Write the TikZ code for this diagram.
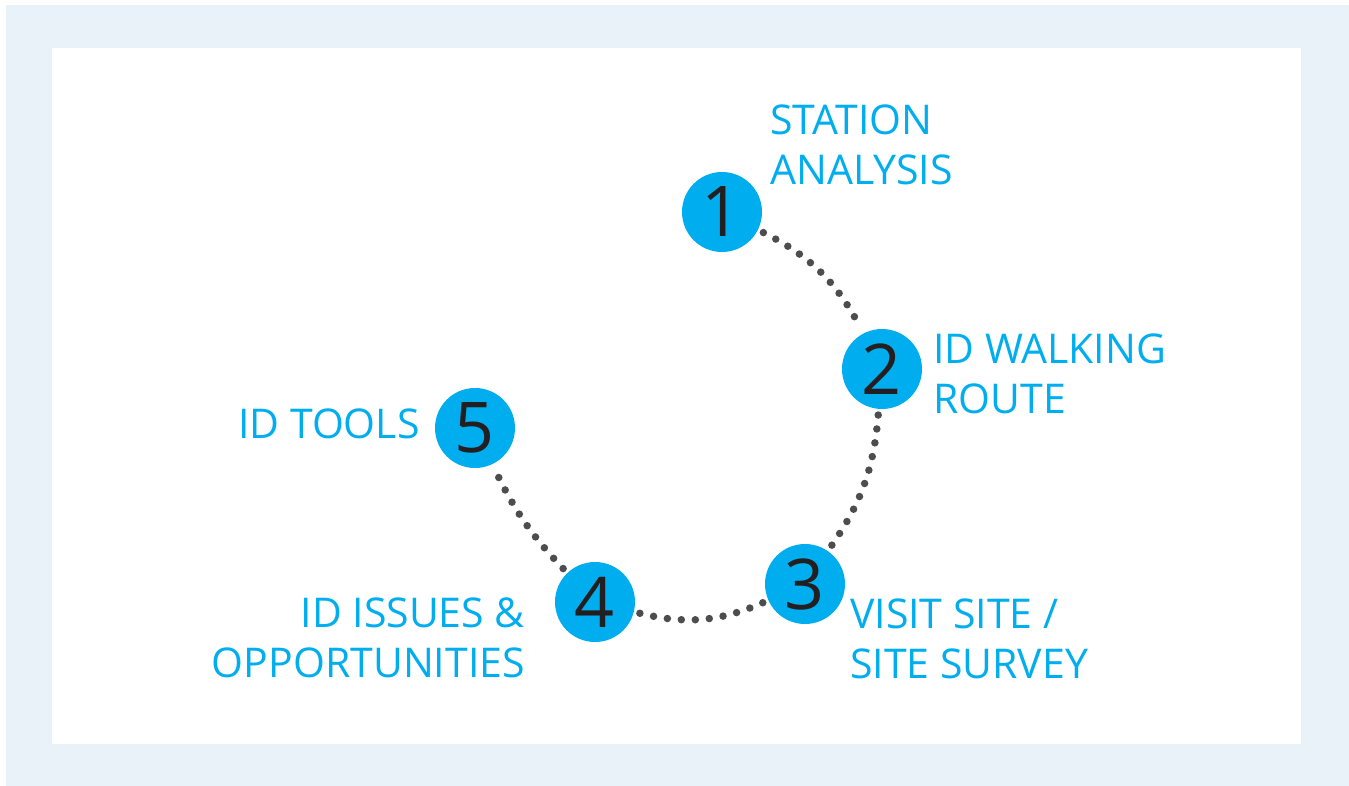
\documentclass[tikz,border=0pt]{standalone}
\usepackage{fontspec}
\setmainfont{Open Sans}
\definecolor{cyanA}{HTML}{00AEEF}
\definecolor{numC}{HTML}{231F20}
\definecolor{dotC}{HTML}{4D4D4F}
\definecolor{frameC}{HTML}{EAF2F9}
\begin{document}
\begin{tikzpicture}[x=1pt,y=-1pt,
  lbl/.style={text=cyanA, font=\fontsize{41}{50}\selectfont, inner sep=0pt},
  num/.style={circle, fill=cyanA, minimum size=80pt, inner sep=0pt, text=numC, font=\fontsize{70}{70}\selectfont},
  dots/.style={draw=dotC, line width=7.5pt, dash pattern=on 0pt off 14pt, line cap=round, shorten <=6pt, shorten >=6pt}]
\useasboundingbox (0,0) rectangle (1349,786);
\fill[frameC] (6,5) rectangle (1349,786);
\fill[white] (52,48) rectangle (1301,744);
% circles
\node[num] (n1) at (722,212) {1};
\node[num] (n2) at (882,369) {2};
\node[num] (n3) at (805,584) {3};
\node[num] (n4) at (595,602) {4};
\node[num] (n5) at (475,428) {5};
% connectors
\draw[dots] (n1) to[bend left=18] (n2);
\draw[dots] (n2) to[bend left=15] (n3);
\draw[dots] (n3) to[bend left=19] (n4);
\draw[dots] (n4) to[bend left=9] (n5);
% labels
\node[lbl, anchor=base west, align=left] (t1) at (770,185) {STATION\\ANALYSIS};
\node[lbl, anchor=base west, align=left] (t2) at (933,413) {ID WALKING\\ROUTE};
\node[lbl, anchor=base west, align=left] (t3) at (850,678) {VISIT SITE /\\SITE SURVEY};
\node[lbl, anchor=base east, align=right] (t4) at (525,677) {ID ISSUES \&\\OPPORTUNITIES};
\node[lbl, anchor=base west] (t5) at (238,438) {ID TOOLS};
\end{tikzpicture}
\end{document}
